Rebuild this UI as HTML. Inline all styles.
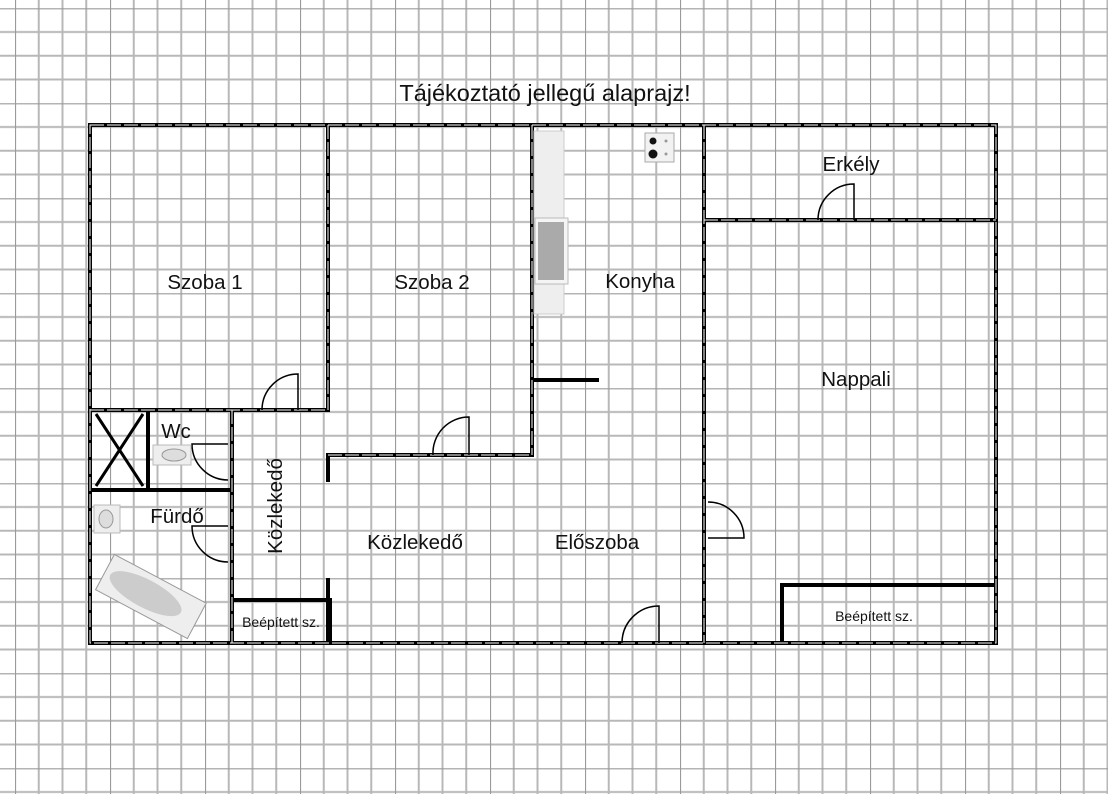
<!DOCTYPE html>
<html><head><meta charset="utf-8"><style>
html,body{margin:0;padding:0;background:#fff;}
svg{display:block;}
text{font-family:"Liberation Sans",sans-serif;fill:#111;}
</style></head><body>
<svg width="1108" height="794" viewBox="0 0 1108 794" xmlns="http://www.w3.org/2000/svg">
<defs>
<pattern id="g" x="15" y="8.25" width="95" height="95" patternUnits="userSpaceOnUse">
<path d="M0 0V95M23.75 0V95M47.5 0V95M71.25 0V95M0 0H95M0 23.75H95M0 47.5H95M0 71.25H95" stroke="#b8b8b8" stroke-width="2" fill="none"/>
<path d="M0 0V95M0 0H95" stroke="#9a9a9a" stroke-width="2.2" fill="none"/>
</pattern>
</defs>
<rect width="1108" height="794" fill="url(#g)"/>
<text x="545" y="101" font-size="23.5" text-anchor="middle">Tájékoztató jellegű alaprajz!</text>
<g stroke="#000" stroke-width="4" fill="none" stroke-linecap="square">
<rect x="90" y="125" width="906" height="518"/>
<path d="M328 125V410M328 455V480M328 580V643"/>
<path d="M532 125V455M704 125V643"/>
<path d="M996 220V585"/>
<path d="M232 410V643M148 410V490"/>
<path d="M90 410H328M328 455H532M90 490H232"/>
<path d="M704 220H996M534 380H597"/>
<path d="M232 600H330V643M782 585H996M782 585V643"/>
</g>
<g stroke="#fff" stroke-width="1" fill="none" stroke-dasharray="14 3">
<rect x="90" y="125" width="906" height="518"/>
<path d="M328 125V410M532 125V455M704 125V643M232 410V643M704 220H996M90 410H328M328 455H532"/>
</g>
<g stroke="#000" stroke-width="3"><path d="M96 414L143 486M143 414L96 486"/></g>
<g stroke="#000" stroke-width="1.5" fill="none">
<path d="M262 410A36 36 0 0 1 298 374V410"/>
<path d="M433 455A36 36 0 0 1 469 417V455"/>
<path d="M228 444H192A36 36 0 0 0 228 480"/>
<path d="M228 526H192A36 36 0 0 0 228 562"/>
<path d="M622 643A37 37 0 0 1 659 606V643"/>
<path d="M708 502A36 36 0 0 1 744 538H708"/>
<path d="M818 220A36 36 0 0 1 854 184V220"/>
</g>
<rect x="534" y="131" width="30" height="183" fill="#eee" stroke="#ccc"/>
<rect x="535" y="218" width="33" height="66" fill="#f5f5f5" stroke="#bbb"/>
<rect x="538" y="222" width="26" height="58" fill="#aaa"/>
<rect x="645" y="133" width="29" height="29" fill="#f2f2f2" stroke="#aaa"/>
<circle cx="653" cy="141" r="3.5" fill="#111"/><circle cx="653" cy="154" r="4.5" fill="#111"/>
<circle cx="666" cy="141" r="1.5" fill="#999"/><circle cx="666" cy="154" r="1.5" fill="#999"/>
<rect x="153" y="445" width="38" height="20" fill="#eee" stroke="#bbb"/>
<ellipse cx="174" cy="455" rx="12" ry="6" fill="#ddd" stroke="#999"/>
<rect x="94" y="505" width="26" height="28" fill="#eee" stroke="#bbb"/>
<ellipse cx="106" cy="519" rx="7" ry="9" fill="#ddd" stroke="#999"/>
<g transform="rotate(28 150 596)">
<rect x="99" y="576" width="104" height="40" fill="#eee" stroke="#999"/>
<ellipse cx="145" cy="596" rx="40" ry="14" fill="#ccc"/>
</g>
<g font-size="20.5">
<text x="205" y="289" text-anchor="middle">Szoba 1</text>
<text x="432" y="289" text-anchor="middle">Szoba 2</text>
<text x="640" y="288" text-anchor="middle">Konyha</text>
<text x="851" y="171" text-anchor="middle">Erkély</text>
<text x="856" y="386" text-anchor="middle">Nappali</text>
<text x="176" y="438" text-anchor="middle">Wc</text>
<text x="177" y="523" text-anchor="middle">Fürdő</text>
<text x="415" y="549" text-anchor="middle">Közlekedő</text>
<text x="597" y="549" text-anchor="middle">Előszoba</text>
<text transform="translate(282 506) rotate(-90)" text-anchor="middle">Közlekedő</text>
</g>
<text x="281" y="627" font-size="14" text-anchor="middle">Beépített sz.</text>
<text x="874" y="621" font-size="14" text-anchor="middle">Beépített sz.</text>
</svg>
</body></html>
